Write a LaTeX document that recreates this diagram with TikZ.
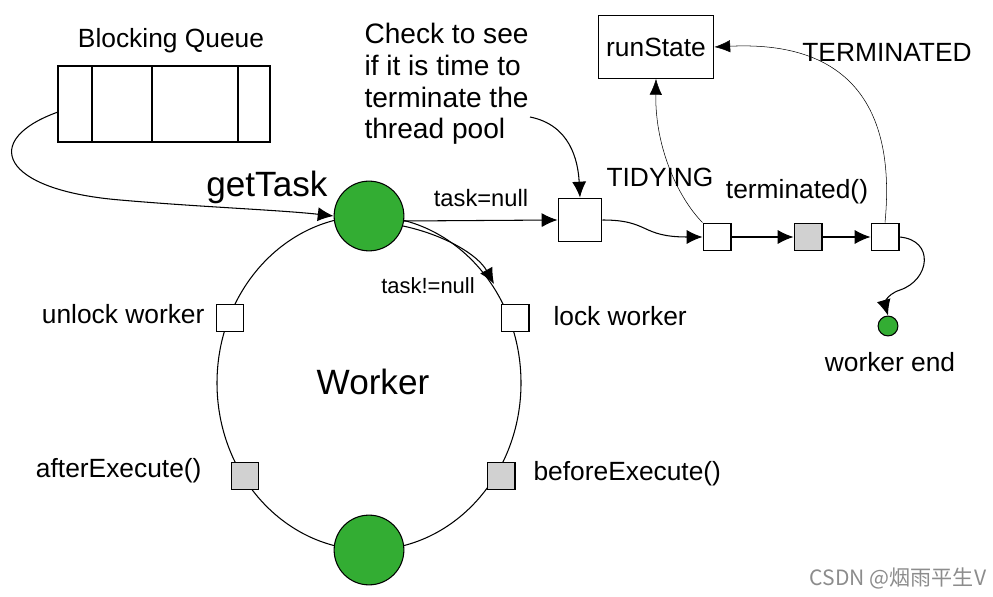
\documentclass[tikz,border=0pt]{standalone}
\usepackage{fontspec}
\setmainfont{Liberation Sans}
\newfontfamily\cjk{Noto Sans CJK SC}
\usetikzlibrary{arrows.meta,positioning}
\tikzset{
  lbl/.style={font=\fontsize{15}{18}\selectfont, inner sep=0pt},
  small/.style={font=\fontsize{12.5}{15}\selectfont, inner sep=0pt},
  big/.style={font=\fontsize{20}{24}\selectfont, inner sep=0pt},
  box/.style={draw, fill=white, minimum size=#1, inner sep=0pt},
  gbox/.style={draw, fill=black!18, minimum size=#1, inner sep=0pt},
  green dot/.style={circle, draw, fill=green!60!black!80, minimum size=#1, inner sep=0pt},
  flow/.style={-{Latex[length=9pt,width=8pt]}},
  thin flow/.style={-{Latex[length=9pt,width=7pt]}, line width=0.3pt}
}
\begin{document}
\begin{tikzpicture}[x=0.02cm, y=-0.02cm, line width=0.6pt]
  \useasboundingbox (0,0) rectangle (993,597);

  % blocking queue
  \node[lbl] (bqlabel) at (171,41) {Blocking Queue};
  \draw (58,66) rectangle (270,142);
  \foreach \x in {92,152,238} \draw (\x,66) -- (\x,142);
  \coordinate (qleft) at (58,112);

  % worker loop
  \draw (369,383) ellipse [x radius=152, y radius=167];
  \node[green dot=39.7pt] (get) at (369,216) {};
  \node[green dot=39.7pt] (bottom) at (369,550) {};
  \node[big, anchor=east] (gettask) at (328,187) {getTask};
  \node[big] (worker) at (373,382) {Worker};
  \node[box=15.9pt] (unlock) at (230,318) {};
  \node[box=15.9pt] (lock) at (515,318) {};
  \node[gbox=15.9pt] (after) at (245,476) {};
  \node[gbox=15.9pt] (before) at (501,476) {};
  \node[lbl, anchor=east] at (205,314) {unlock worker};
  \node[lbl, anchor=west] at (553,316) {lock worker};
  \node[lbl, anchor=east] at (202,471) {afterExecute()};
  \node[lbl, anchor=west] at (533,474) {beforeExecute()};
  \node[small] at (428,286) {task!=null};
  \draw[flow] (403,226) .. controls (445,235) and (478,255) .. (494,284);

  % queue to getTask
  \draw[flow] (qleft) .. controls (-20,140) and (0,190) .. (120,200)
    .. controls (200,207) and (280,210) .. (get.west);

  % termination path
  \node[box=25pt] (check) at (580,220) {};
  \node[small, font=\fontsize{13.5}{16}\selectfont] at (481,198) {task=null};
  \draw[flow] (404,221) -- (check.west);
  \node[lbl, align=left, anchor=north west, font=\fontsize{16}{18}\selectfont] (checktxt) at (364,23)
    {Check to see\\ if it is time to\\ terminate the\\ thread pool};
  \draw[flow] (530,117) .. controls (570,125) and (578,160) .. (check.north);
  \node[box=15.9pt] (tidy) at (717,237) {};
  \node[gbox=15.9pt] (term) at (808,237) {};
  \node[box=15.9pt] (done) at (885,237) {};
  \draw[flow] (check.east) .. controls (650,220) and (640,237) .. (tidy.west);
  \draw[flow] (tidy.east) -- (term.west);
  \draw[flow] (term.east) -- (done.west);
  \node[draw, minimum width=65.8pt, minimum height=35.7pt, inner sep=0pt] (run) at (656,47) {};
  \node[lbl] at (656,47) {runState};
  \node[lbl] at (660,177) {TIDYING};
  \node[lbl] at (797,192) {terminated()};
  \node[lbl] at (887,52) {TERMINATED};
  \draw[thin flow] (tidy.north west) .. controls (680,200) and (655,150) .. (run.south);
  \draw[thin flow] (done.north) .. controls (895,120) and (860,40) .. (run.east);
  \node[green dot=11.3pt] (end) at (888,326) {};
  \node[lbl] at (890,362) {worker end};
  \draw[flow] (done.east) .. controls (935,240) and (930,280) .. (900,290) .. controls (885,295) and (885,305) .. (end.north);

  \node[font=\cjk\fontsize{12}{14}\selectfont, text=black!45, inner sep=0pt] at (898,578) {CSDN @烟雨平生V};
\end{tikzpicture}
\end{document}
